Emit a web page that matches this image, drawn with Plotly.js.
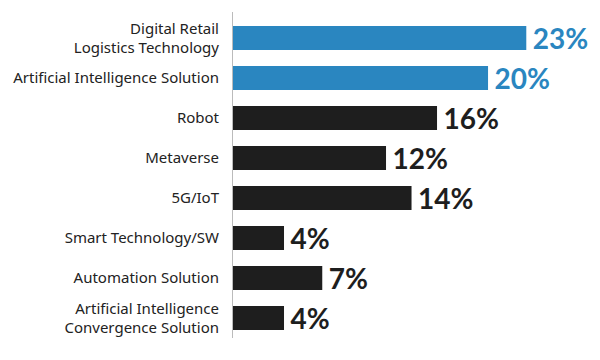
<!DOCTYPE html>
<html><head><meta charset="utf-8">
<script src="https://cdn.plot.ly/plotly-3.0.1.min.js"></script>
<style>html,body{margin:0;padding:0;background:#fff}</style>
</head><body><div id="chart" style="width:600px;height:360px"></div>
<script>
const categories = ["Digital Retail<br>Logistics Technology","Artificial Intelligence Solution","Robot","Metaverse","5G/IoT","Smart Technology/SW","Automation Solution","Artificial Intelligence<br>Convergence Solution"];
const values = [23,20,16,12,14,4,7,4];
const labels = ["23%","20%","16%","12%","14%","4%","7%","4%"];
const highlight = [true,true,false,false,false,false,false,false];
const blue = "#2a86c0", dark = "#1e1e1e";
const colors = highlight.map(h => h ? blue : dark);
Plotly.newPlot("chart", [{
  type: "bar", orientation: "h",
  y: categories, x: values, text: labels.map(t => "\u2009" + t),
  textposition: "outside", cliponaxis: false, constraintext: "none",
  textfont: {family: "Lato", size: 28, color: colors, weight: 700},
  marker: {color: colors},
  hoverinfo: "none"
}], {
  width: 600, height: 360,
  margin: {l: 233, r: 0, t: 12, b: 22},
  bargap: 0.4,
  showlegend: false,
  paper_bgcolor: "#fff", plot_bgcolor: "#fff",
  xaxis: {range: [0, 28.78], visible: false, fixedrange: true},
  yaxis: {range: [7.5, -0.65], showline: true, linecolor: "#bbbbbb", linewidth: 1,
    showgrid: false, zeroline: false, ticks: "", ticklabelstandoff: 10,
    tickfont: {family: "Noto Sans", size: 15, color: "#222"}}
}, {displayModeBar: false, staticPlot: true});
</script></body></html>
